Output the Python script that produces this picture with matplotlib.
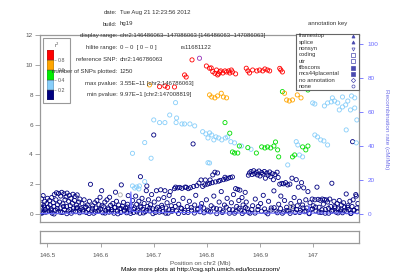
import matplotlib
matplotlib.use("Agg")
import matplotlib.pyplot as plt
from matplotlib.patches import Rectangle

plt.rcParams['font.family'] = ['Liberation Sans', 'DejaVu Sans']

# ---- data (positions in Mb, -log10 p) ----
lead_pos = [146.786063]
lead_logp = [10.45]

red_pos = [146.772, 146.758, 146.761, 146.711, 146.721, 146.726, 146.739, 146.799, 146.805,
           146.808, 146.811, 146.815, 146.820, 146.818, 146.824, 146.830, 146.834, 146.837,
           146.841, 146.843, 146.846, 146.848, 146.826, 146.822, 146.874, 146.877, 146.880,
           146.886, 146.894, 146.899, 146.905, 146.909, 146.914, 146.918, 146.937, 146.939,
           146.942, 146.854]
red_logp = [10.34, 9.33, 9.19, 8.54, 8.59, 8.50, 8.52, 9.93, 9.78,
            9.80, 9.55, 9.44, 9.33, 9.66, 9.53, 9.46, 9.60, 9.53,
            9.60, 9.46, 9.66, 9.53, 9.60, 9.40, 9.78, 9.60, 9.46,
            9.66, 9.60, 9.66, 9.60, 9.73, 9.66, 9.60, 9.77, 9.66,
            9.53, 9.40]

orange_pos = [146.692, 146.805, 146.809, 146.820, 146.827, 146.831, 146.837, 146.815,
              146.946, 146.950, 146.955, 146.961, 146.970, 146.977]
orange_logp = [8.66, 7.99, 7.85, 7.92, 8.10, 7.85, 7.79, 7.79,
               8.10, 7.65, 7.58, 7.65, 7.99, 7.79]

green_pos = [146.834, 146.843, 146.848, 146.852, 146.858, 146.861, 146.877, 146.893,
             146.903, 146.909, 146.914, 146.920, 146.926, 146.929, 146.933, 146.935,
             146.942, 146.961, 146.965, 146.980, 146.990, 146.986, 146.990]
green_logp = [6.13, 5.42, 4.16, 4.09, 4.09, 4.56, 4.45, 4.09,
              4.50, 4.43, 4.50, 4.43, 4.56, 4.83, 4.30, 3.83,
              8.21, 3.83, 3.96, 4.50, 4.56, 4.30, 8.32]

lblue_pos = [146.660, 146.683, 146.695, 146.700, 146.711, 146.721, 146.730, 146.741,
             146.742, 146.743, 146.753, 146.758, 146.768, 146.777, 146.792, 146.798,
             146.802, 146.805, 146.809, 146.813, 146.817, 146.822, 146.828, 146.835,
             146.839, 146.845, 146.852, 146.865, 146.883, 146.802, 146.805, 146.952,
             146.968, 146.971, 146.974, 146.980, 147.003, 147.008, 147.014, 147.020,
             147.027, 147.062, 147.081, 146.999, 147.003, 147.021, 147.027, 147.034,
             147.040, 147.046, 147.049, 147.055, 147.061, 147.065, 147.070, 147.078,
             147.082, 147.036, 147.055, 147.072, 147.078, 146.660, 146.664, 146.668,
             146.672, 146.673, 146.683]
lblue_logp = [4.07, 4.79, 3.74, 6.31, 6.13, 6.13, 6.64, 7.47,
              6.13, 6.44, 6.04, 6.04, 6.04, 5.91, 5.52, 5.37,
              5.10, 5.44, 5.30, 4.97, 5.17, 5.10, 4.97, 5.10,
              5.17, 4.85, 4.77, 4.56, 4.34, 3.44, 3.42, 3.29,
              4.85, 4.63, 3.96, 3.83, 5.30, 5.17, 4.97, 4.90,
              4.63, 5.64, 4.77, 7.45, 7.38, 7.25, 7.45, 7.52,
              7.58, 7.45, 6.98, 7.18, 7.32, 7.58, 6.98, 7.11,
              6.31, 7.79, 7.85, 7.92, 7.79, 1.88, 1.74, 1.81,
              1.68, 1.88, 2.17]

gray_pos = [146.637, 146.959]
gray_logp = [1.28, 0.49]

navy_pos = [
    146.487, 146.488, 146.489, 146.490, 146.491, 146.492, 146.493, 146.495, 146.496, 146.497,
    146.499, 146.500, 146.501, 146.503, 146.504, 146.505, 146.507, 146.508, 146.509, 146.511,
    146.512, 146.513, 146.515, 146.516, 146.517, 146.519, 146.520, 146.521, 146.523, 146.524,
    146.525, 146.527, 146.528, 146.529, 146.531, 146.532, 146.533, 146.535, 146.536, 146.537,
    146.539, 146.540, 146.541, 146.543, 146.544, 146.545, 146.547, 146.548, 146.549, 146.551,
    146.552, 146.553, 146.555, 146.556, 146.557, 146.559, 146.560, 146.561,
    146.563, 146.565, 146.567, 146.569, 146.571, 146.573, 146.575, 146.577, 146.579, 146.581,
    146.583, 146.585, 146.587, 146.589, 146.591, 146.593, 146.595, 146.597, 146.599, 146.600,
    146.602, 146.604, 146.606, 146.608, 146.610, 146.612, 146.614, 146.616, 146.617, 146.619,
    146.621, 146.623, 146.625, 146.627, 146.628, 146.630, 146.632, 146.634, 146.636, 146.638,
    146.639, 146.641, 146.643, 146.645, 146.647, 146.649, 146.651, 146.652, 146.654,
    146.656, 146.658, 146.660, 146.662, 146.664, 146.666, 146.668, 146.670, 146.672, 146.674,
    146.675, 146.676, 146.678, 146.680, 146.682, 146.684, 146.686, 146.687, 146.688, 146.690,
    146.692, 146.694, 146.696, 146.698, 146.700, 146.701, 146.703, 146.705, 146.707, 146.709,
    146.711, 146.713, 146.715, 146.717, 146.719, 146.721, 146.723, 146.725, 146.727, 146.729,
    146.731, 146.733, 146.735, 146.737, 146.739, 146.741, 146.743, 146.745, 146.747, 146.749,
    146.751, 146.753, 146.755, 146.757, 146.759, 146.761, 146.763, 146.765, 146.767, 146.769,
    146.771, 146.774, 146.775, 146.777, 146.779, 146.781, 146.783, 146.785,
    146.787, 146.789, 146.790, 146.792, 146.794, 146.796, 146.797, 146.799, 146.801, 146.803,
    146.805, 146.806, 146.808, 146.810, 146.811, 146.813, 146.815, 146.816, 146.818, 146.820,
    146.822, 146.823, 146.825, 146.827, 146.829, 146.831, 146.833, 146.834, 146.836, 146.838,
    146.840, 146.842, 146.844, 146.846, 146.848, 146.850, 146.852, 146.854, 146.856, 146.858,
    146.860, 146.862,
    146.864, 146.866, 146.868, 146.870, 146.872, 146.874, 146.876, 146.878, 146.880, 146.881,
    146.883, 146.885, 146.886, 146.888, 146.890, 146.891, 146.893, 146.895, 146.896, 146.898,
    146.900, 146.901, 146.903, 146.905, 146.906, 146.908, 146.910, 146.911, 146.913, 146.915,
    146.916, 146.918, 146.920, 146.921, 146.923, 146.925, 146.926, 146.928, 146.930, 146.932,
    146.934, 146.935, 146.937, 146.939, 146.941, 146.942, 146.944, 146.946, 146.948, 146.950,
    146.952, 146.954, 146.956, 146.958, 146.960, 146.962, 146.964, 146.966, 146.968, 146.970,
    146.972, 146.974, 146.976, 146.978, 146.980, 146.982, 146.984, 146.986, 146.988, 146.990,
    146.992, 146.994, 146.996, 146.998, 147.000, 147.003, 147.005, 147.007, 147.009, 147.011,
    147.013, 147.015, 147.017, 147.019, 147.021, 147.023, 147.025, 147.027, 147.029, 147.031,
    147.033, 147.035, 147.037, 147.039, 147.041, 147.043, 147.045, 147.047, 147.049, 147.051,
    147.053, 147.055, 147.057, 147.059, 147.062, 147.063, 147.065, 147.067, 147.069, 147.071,
    147.073, 147.074, 147.075, 147.077, 147.080, 147.081, 147.082, 147.084]
navy_logp = [
    0.22, 0.65, 1.02, 0.40, 0.08, 1.23, 0.55, 0.85, 0.30, 0.12,
    0.70, 1.05, 0.45, 0.20, 0.90, 0.60, 0.35, 1.10, 0.05, 0.75,
    0.50, 1.30, 0.25, 0.95, 1.42, 0.62, 0.15, 1.38, 0.80, 0.40,
    1.20, 1.45, 0.10, 0.68, 1.35, 0.30, 0.95, 1.15, 0.50, 1.40,
    0.20, 0.85, 1.25, 0.55, 1.05, 0.05, 0.72, 1.32, 0.38, 0.90,
    1.18, 0.15, 0.60, 1.28, 0.42, 0.80, 0.25, 1.00,
    0.35, 0.70, 0.15, 0.95, 0.45, 0.10, 0.60, 0.30, 0.85, 1.99,
    0.20, 0.55, 0.05, 0.75, 0.40, 0.90, 0.18, 0.62, 1.12, 0.33,
    1.56, 0.08, 0.48, 0.80, 0.22, 0.95, 0.40, 0.12, 1.12, 0.58,
    0.28, 0.70, 0.05, 0.45, 1.46, 0.85, 0.20, 0.60, 0.35, 0.10,
    1.95, 0.52, 0.78, 0.25, 0.40, 0.08, 0.65, 1.23, 0.30,
    0.20, 0.55, 0.90, 0.10, 0.40, 1.20, 0.65, 0.25, 0.85, 0.05,
    2.50, 0.45, 1.05, 0.30, 0.70, 0.15, 1.56, 1.88, 0.50, 0.95,
    0.20, 0.62, 1.30, 0.35, 5.30, 0.80, 0.10, 1.56, 0.45, 1.00,
    0.25, 1.62, 0.58, 0.15, 1.10, 1.56, 0.40, 0.75, 0.05, 1.25,
    1.50, 0.55, 0.30, 0.90, 1.70, 1.80, 0.20, 1.75, 0.65, 1.78,
    0.40, 1.72, 1.05, 0.10, 1.80, 1.79, 0.50, 1.70, 0.85, 1.76,
    0.25, 4.70, 1.85, 0.60, 1.25, 1.90, 0.35, 2.07,
    0.15, 2.28, 0.70, 1.85, 0.40, 1.95, 2.28, 0.95, 2.00, 0.20,
    2.05, 2.28, 0.55, 2.10, 2.62, 1.20, 2.80, 2.15, 0.35, 2.75,
    2.20, 0.80, 2.25, 1.50, 0.10, 2.30, 0.60, 2.46, 2.35, 1.05,
    2.40, 0.30, 2.45, 0.75, 2.48, 1.30, 0.05, 1.70, 0.50, 1.65,
    0.90, 1.60,
    0.25, 1.10, 0.60, 0.15, 1.45, 0.80, 0.35, 2.60, 2.75, 0.05,
    2.85, 2.65, 0.55, 2.90, 2.70, 1.00, 2.80, 2.62, 0.30, 2.88,
    2.55, 0.70, 2.78, 2.68, 1.25, 2.85, 2.40, 0.12, 2.75, 2.60,
    0.85, 2.82, 2.50, 0.40, 2.70, 2.30, 1.55, 2.65, 0.20, 2.80,
    2.45, 0.65, 2.00, 1.20, 2.05, 0.05, 2.02, 0.90, 2.10, 0.45,
    1.95, 0.20, 2.00, 0.70, 2.40, 0.35, 1.10, 0.10, 2.30, 0.55,
    1.80, 0.85, 0.25, 2.10, 0.60, 1.75, 0.15, 0.95, 0.40, 1.50,
    0.05, 0.75, 0.30, 1.00, 0.55, 0.95, 0.20, 1.80, 0.98, 0.45,
    0.92, 0.10, 1.00, 0.65, 0.96, 0.30, 0.94, 0.80, 0.05, 1.00,
    0.50, 2.06, 0.25, 0.85, 0.40, 0.12, 0.70, 0.35, 0.90, 0.20,
    0.60, 0.08, 0.75, 0.45, 1.34, 0.15, 0.55, 0.30, 0.85, 0.05,
    0.50, 4.85, 0.95, 0.25, 1.30, 1.20, 0.40, 0.70]

navy_low_pos = [
    146.4885, 146.4945, 146.5005, 146.5065, 146.5125, 146.5185, 146.5245, 146.5305, 146.5365,
    146.5425, 146.5485, 146.5545, 146.5605, 146.5665, 146.5725, 146.5785, 146.5845, 146.5905,
    146.5965, 146.6025, 146.6085, 146.6145, 146.6205, 146.6265, 146.6325, 146.6385, 146.6445,
    146.6505, 146.6565, 146.6625, 146.6685, 146.6745, 146.6805, 146.6865, 146.6925, 146.6985,
    146.7045, 146.7105, 146.7165, 146.7225, 146.7285, 146.7345, 146.7405, 146.7465, 146.7525,
    146.7585, 146.7645, 146.7705, 146.7765, 146.7825, 146.7885, 146.7945, 146.8005, 146.8065,
    146.8125, 146.8185, 146.8245, 146.8305, 146.8365, 146.8425, 146.8485, 146.8545, 146.8605,
    146.8665, 146.8725, 146.8785, 146.8845, 146.8905, 146.8965, 146.9025, 146.9085, 146.9145,
    146.9205, 146.9265, 146.9325, 146.9385, 146.9445, 146.9505, 146.9565, 146.9625, 146.9685,
    146.9745, 146.9805, 146.9865, 146.9925, 146.9985, 147.0045, 147.0105, 147.0165, 147.0225,
    147.0285, 147.0345, 147.0405, 147.0465, 147.0525, 147.0585, 147.0645, 147.0705, 147.0765,
    147.0825]
navy_low_logp = [
    0.05, 0.45, 0.15, 0.25, 0.00, 0.35, 0.12, 0.50, 0.02,
    0.30, 0.18, 0.40, 0.08, 0.28, 0.48, 0.03, 0.38, 0.14,
    0.26, 0.55, 0.06, 0.32, 0.16, 0.42, 0.01, 0.36, 0.20,
    0.46, 0.04, 0.30, 0.14, 0.52, 0.07, 0.24, 0.40, 0.02,
    0.34, 0.12, 0.44, 0.05, 0.28, 0.18, 0.50, 0.03, 0.36,
    0.22, 0.10, 0.42, 0.06, 0.30, 0.48, 0.08, 0.26, 0.14,
    0.40, 0.02, 0.32, 0.20, 0.46, 0.05, 0.28, 0.16, 0.38,
    0.03, 0.44, 0.12, 0.30, 0.06, 0.50, 0.18, 0.34, 0.01,
    0.26, 0.42, 0.08, 0.36, 0.14, 0.24, 0.04, 0.48, 0.30,
    0.10, 0.40, 0.20, 0.02, 0.34, 0.46, 0.12, 0.28, 0.05,
    0.38, 0.18, 0.50, 0.07, 0.32, 0.22, 0.44, 0.03, 0.26,
    0.15]

recomb_pos = [146.486, 146.55, 146.60, 146.655, 146.657, 146.659, 146.70, 146.785,
              146.787, 146.79, 146.90, 146.99, 146.992, 146.995, 147.05, 147.086]
recomb_rate = [0.3, 0.5, 0.4, 0.5, 13.0, 1.5, 1.0, 0.8,
               6.0, 0.6, 0.5, 0.5, 5.0, 0.5, 0.6, 0.4]

xtick_vals = [146.5, 146.6, 146.7, 146.8, 146.9, 147.0]
xtick_labels = ['146.5', '146.6', '146.7', '146.8', '146.9', '147']

r2_colors = ['#000080', '#87CEFA', '#00EE00', '#FFA500', '#FF0000']
r2_bins = [0.2, 0.2, 0.2, 0.2, 0.2]

info_labels = ['date:', 'build:', 'display range:', 'hilite range:', 'reference SNP:',
               'number of SNPs plotted:', 'max pvalue:', 'min pvalue:']
info_values = ['Tue Aug 21 12:23:56 2012', 'hg19',
               'chr2:146486063\u2013147086063 [146486063\u2013147086063]',
               '0 \u2013 0  [ 0 \u2013 0 ]', 'chr2:146786063', '1250',
               '3.55E\u221211 [chr2:146786063]', '9.97E\u22121 [chr2:147008819]']

annot_names = ['framestop', 'splice', 'nonsyn', 'coding', 'utr', 'tfbscons',
               'mcs44placental', 'no annotation', 'none']
annot_markers = ['^', '^', 'v', 's', 's', 's', 's', 'D', 'o']
annot_filled = [True, True, False, False, False, True, True, False, False]

# ---- layout helpers (pixel -> figure fraction) ----
W, H = 399, 279


def box(x0, y0, x1, y1):
    return [x0 / W, 1 - y1 / H, (x1 - x0) / W, (y1 - y0) / H]


def ftext(x, y, s, **kw):
    fig.text(x / W, 1 - y / H, s, **kw)


GRAY = '#999999'
TXT = '#555555'
RBLUE = '#6a6aff'

fig = plt.figure(figsize=(W / 100, H / 100), dpi=100)

ax = fig.add_axes(box(40, 35, 359, 222))
ax.set_xlim(146.486063, 147.086063)
ax.set_ylim(-0.54, 12.01)

sty = dict(s=9, facecolors='none', linewidths=0.6)
ax.scatter(navy_low_pos, navy_low_logp, edgecolors='#000080', **sty)
ax.scatter(navy_pos, navy_logp, edgecolors='#000080', **sty)
ax.scatter(gray_pos, gray_logp, edgecolors='#aaaaaa', **sty)
ax.scatter(lblue_pos, lblue_logp, edgecolors='#87CEFA', **sty)
ax.scatter(green_pos, green_logp, edgecolors='#00DD00', **sty)
ax.scatter(orange_pos, orange_logp, edgecolors='#FFA500', **sty)
ax.scatter(red_pos, red_logp, edgecolors='#FF0000', **sty)
ax.scatter(lead_pos, lead_logp, edgecolors='#9632B8', **sty)

ax.set_xticks([])
ax.set_yticks(range(0, 13, 2))
ax.tick_params(axis='y', length=3.6, width=0.6, color=GRAY, labelcolor=TXT,
               labelsize=4.6, pad=1.5)
for sp in ax.spines.values():
    sp.set_color(GRAY)
    sp.set_linewidth(0.9)

ax2 = ax.twinx()
ax2.plot(recomb_pos, recomb_rate, color=RBLUE, lw=0.8)
ax2.set_ylim(-4.7, 105.3)
ax2.set_yticks(range(0, 101, 20))
ax2.tick_params(axis='y', length=3, width=0.6, color=RBLUE, labelcolor=RBLUE,
                labelsize=4.6, pad=3)
for sp in ax2.spines.values():
    sp.set_visible(False)

# gene panel
gax = fig.add_axes(box(40, 231, 359, 243))
gax.set_xlim(146.486063, 147.086063)
gax.set_yticks([])
gax.set_xticks(xtick_vals)
gax.set_xticklabels(xtick_labels)
gax.tick_params(axis='x', length=3, width=0.6, color=GRAY, labelcolor=TXT,
                labelsize=4.6, pad=4)
for sp in gax.spines.values():
    sp.set_color(GRAY)
    sp.set_linewidth(0.9)

ftext(200, 263.5, 'Position on chr2 (Mb)', ha='center', va='center', fontsize=4.6, color=TXT)
ftext(200, 269, 'Make more plots at http://csg.sph.umich.edu/locuszoom/',
      ha='center', va='center', fontsize=4.6, color='black')
ftext(386, 129, 'Recombination rate (cM/Mb)', rotation=270, ha='center', va='center',
      fontsize=4.6, color='#7070e8')

# info block
rows_y = [12.7, 24, 35.3, 47.8, 59.8, 71.3, 83, 94.6]
for lab, val, yy in zip(info_labels, info_values, rows_y):
    ftext(117.5, yy, lab, ha='right', va='center', fontsize=4.3, color='#333333')
    ftext(119.5, yy, val, ha='left', va='center', fontsize=4.3, color='#333333')
ftext(181, 47.5, 'rs11681122', ha='left', va='center', fontsize=4.3, color='#333333')

# r2 legend
fig.patches.append(Rectangle((43 / W, 1 - 103 / H), 27 / W, 65 / H, transform=fig.transFigure,
                             facecolor='white', edgecolor=GRAY, lw=0.8, zorder=2))
lax = fig.add_axes(box(47, 50, 54, 100), zorder=3)
lax.bar([0] * 5, r2_bins, bottom=[0, 0.2, 0.4, 0.6, 0.8], width=1, color=r2_colors,
        edgecolor='#444444', linewidth=0.3)
lax.set_xlim(-0.5, 0.5)
lax.set_ylim(0, 1)
lax.set_xticks([])
lax.yaxis.tick_right()
lax.set_yticks([0.2, 0.4, 0.6, 0.8])
lax.tick_params(axis='y', length=1.5, width=0.5, color=GRAY, labelcolor=TXT,
                labelsize=3.8, pad=1)
for sp in lax.spines.values():
    sp.set_visible(False)
ftext(57, 45, 'r$^2$', ha='center', va='center', fontsize=4, color=TXT, zorder=4)

# annotation key
kax = fig.add_axes(box(296, 33.5, 359, 89.5), zorder=3)
kax.set_xlim(0, 63)
kax.set_ylim(89.5, 33.5)
kax.set_xticks([])
kax.set_yticks([])
for sp in kax.spines.values():
    sp.set_color('#666666')
    sp.set_linewidth(0.8)
for i, (nm, mk, fl) in enumerate(zip(annot_names, annot_markers, annot_filled)):
    yy = 36 + i * 6.3
    kax.text(3, yy, nm, ha='left', va='center', fontsize=4.2, color='#333333')
    kax.plot([57], [yy], marker=mk, ms=2.2, mew=0.5, color='#4a4ab0',
             mfc='#4a4ab0' if fl else 'none')
ftext(327.5, 24, 'annotation key', ha='center', va='center', fontsize=4.3, color='#333333')

fig.savefig('out.png', dpi=100)
